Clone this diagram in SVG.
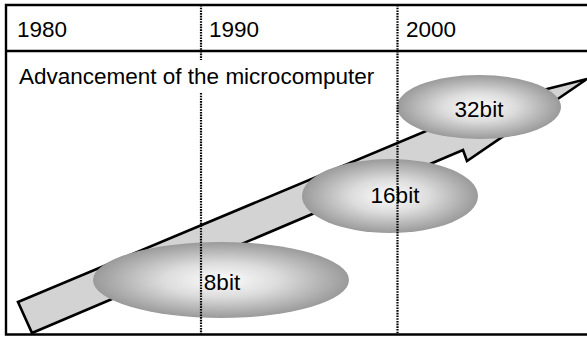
<svg xmlns="http://www.w3.org/2000/svg" width="587" height="337" viewBox="0 0 587 337">
  <style>
    .frame { fill: none; stroke: #000; stroke-width: 2.4; }
    .label { font-family: "Liberation Sans", Arial, sans-serif; font-size: 22.5px; fill: #000; }
    .era { fill: none; stroke: #000; stroke-width: 2.2; stroke-dasharray: 1.6 1.1; }
    .trend { fill: #d3d3d3; stroke: #000; stroke-width: 2.6; stroke-linejoin: miter; }
    .bubble { fill: url(#bubbleShade); stroke: none; }
  </style>
  <defs>
    <radialGradient id="bubbleShade" cx="50%" cy="50%" r="50%">
      <stop offset="0" stop-color="#fdfdfd"/>
      <stop offset="0.45" stop-color="#dcdcdc"/>
      <stop offset="1" stop-color="#9a9a9a"/>
    </radialGradient>
  </defs>

  <rect width="587" height="337" fill="#fff"/>

  <!-- table frame: header row and body -->
  <g id="frame">
    <path class="frame" d="M592,5 H6 V334.5 H592"/>
    <line class="frame" x1="6" y1="51" x2="592" y2="51"/>
  </g>

  <!-- year headings -->
  <g id="years">
    <text class="label" x="17" y="37">1980</text>
    <text class="label" x="209" y="37">1990</text>
    <text class="label" x="406" y="37">2000</text>
  </g>

  <g id="title">
    <text class="label" x="19" y="84">Advancement of the microcomputer</text>
  </g>

  <!-- rising trend arrow with a zigzag break -->
  <g id="connectors">
    <polygon class="trend" points="18,302 500,100 547,89 587,79 467,161 463,150 32,333"/>
  </g>

  <g id="node-8bit">
    <ellipse class="bubble" cx="221" cy="280" rx="128" ry="38"/>
    <text class="label" x="222" y="290" text-anchor="middle">8bit</text>
  </g>
  <g id="node-16bit">
    <ellipse class="bubble" cx="390" cy="196" rx="88" ry="37"/>
    <text class="label" x="395" y="203" text-anchor="middle">16bit</text>
  </g>
  <g id="node-32bit">
    <ellipse class="bubble" cx="479" cy="107" rx="82" ry="32"/>
    <text class="label" x="479" y="117" text-anchor="middle">32bit</text>
  </g>

  <!-- decade dividers -->
  <g id="dividers">
    <line class="era" x1="201" y1="5" x2="201" y2="60"/>
    <line class="era" x1="201" y1="93" x2="201" y2="334"/>
    <line class="era" x1="397.5" y1="5" x2="397.5" y2="334"/>
  </g>
</svg>
